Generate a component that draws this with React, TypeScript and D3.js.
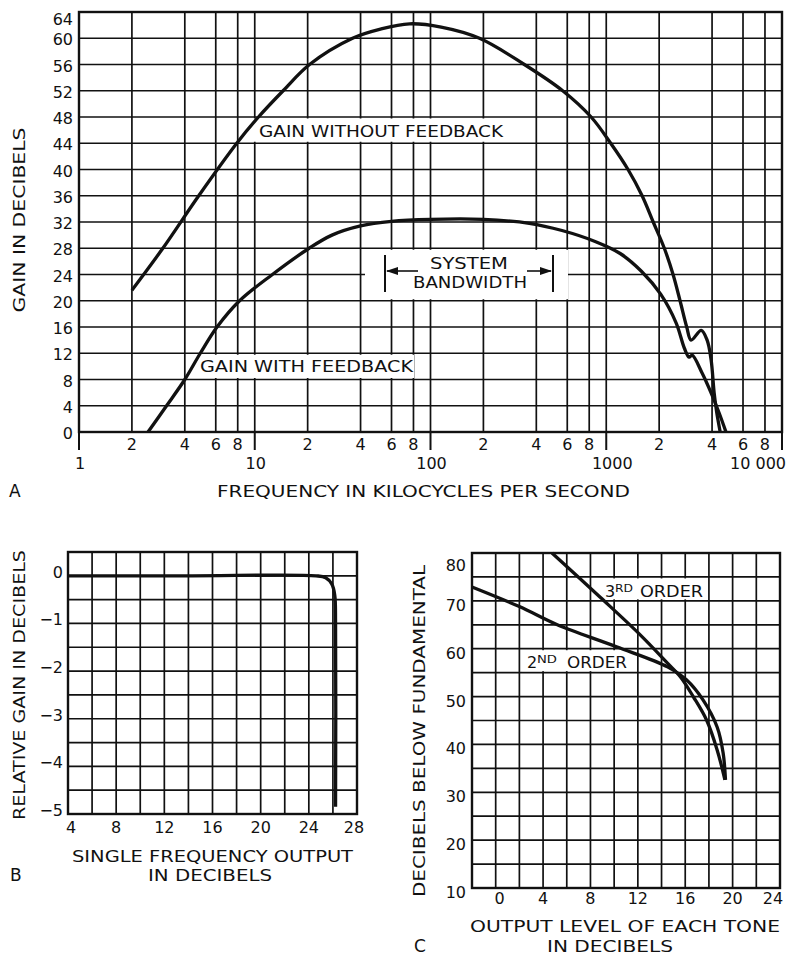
import React from "react";
import * as d3 from "d3";

// ---------- Panel A data ----------
const freqNoFb = [2, 3.0, 4.8, 7.9, 10.5, 14.5, 20.5, 36, 52, 76, 115, 190, 342, 565, 820, 1060, 1330, 1600, 1850, 2140, 2400, 2630, 2870, 3040, 3470, 3750, 3950, 4110, 4250, 4450];
const gainNoFb = [21.6, 28, 36, 44, 48, 52, 56, 60, 61.4, 62.2, 61.7, 60, 56, 52, 48, 44, 40, 36, 32, 28, 24, 20, 16, 14, 15.5, 14, 11, 6, 3, 0];
const freqFb = [2.47, 3.15, 4.0, 4.9, 6.1, 8.2, 12.6, 20.4, 27.5, 40, 60, 100, 200, 365, 560, 871, 1200, 1585, 2040, 2500, 2780, 2960, 3080, 3510, 3960, 4390, 4800];
const gainFb = [0, 4, 8, 12, 16, 20, 24, 28, 30, 31.4, 32.1, 32.4, 32.4, 31.8, 30.7, 29.0, 27.2, 24.5, 21.0, 16.6, 12.8, 11.4, 11.7, 9, 5.9, 2.9, 0];
const aGainTicks = [0, 4, 8, 12, 16, 20, 24, 28, 32, 36, 40, 44, 48, 52, 56, 60, 64];
const aMinorTicks = [2, 4, 6, 8, 20, 40, 60, 80, 200, 400, 600, 800, 2000, 4000, 6000, 8000];
const aMinorLabels = ["2", "4", "6", "8", "2", "4", "6", "8", "2", "4", "6", "8", "2", "4", "6", "8"];
const aDecades = [1, 10, 100, 1000, 10000];
const aDecadeLabels = ["1", "10", "100", "1000", "10 000"];

// ---------- Panel B data ----------
const outB = [4, 14, 24.6, 25.4, 25.9, 26.15, 26.22, 26.22];
const relGainB = [0, 0, 0, -0.04, -0.17, -0.4, -1.0, -4.85];
const bXTicks = [4, 8, 12, 16, 20, 24, 28];
const bYTicks = [0, -1, -2, -3, -4, -5];
const bXGrid = [6, 10, 14, 18, 22, 26];
const bYGrid = [0.5, -0.5, -1.5, -2.5, -3.5, -4.5];

// ---------- Panel C data ----------
const levelC2 = [-2, 2, 5.2, 10.2, 14.5, 16.1, 17.5, 18.7, 19.2, 19.4];
const dbC2 = [72.9, 68.8, 65, 60.4, 56.2, 53.5, 49.3, 43.6, 38.2, 32.6];
const levelC3 = [4.75, 8.8, 12.2, 14.5, 15.6, 16.7, 17.8, 18.7, 19.35];
const dbC3 = [80, 70.8, 62.9, 57, 54.1, 49.9, 45.1, 38.8, 32.6];
const cXTicks = [0, 4, 8, 12, 16, 20, 24];
const cXGrid = [-2, 2, 6, 10, 14, 18, 22];
const cYTicks = [10, 20, 30, 40, 50, 60, 70, 80];
const cYGrid = [15, 25, 35, 45, 55, 65, 75];

const FONT = "'DejaVu Sans', 'Liberation Sans', sans-serif";
const FS = 16;

export default function App() {
  const xA = d3.scaleLog().domain([1, 10000]).range([79, 782]);
  const yA = d3.scaleLinear().domain([0, 64]).range([432, 12]);
  const xB = d3.scaleLinear().domain([4, 28]).range([68, 357]);
  const yB = d3.scaleLinear().domain([-5, 0.5]).range([814, 552]);
  const xC = d3.scaleLinear().domain([-2, 24]).range([472, 780]);
  const yC = d3.scaleLinear().domain([10, 80]).range([888, 553]);

  const cr = d3.curveCatmullRom.alpha(0.5);
  const lineA = d3.line<[number, number]>().x((d) => xA(d[0])).y((d) => yA(d[1])).curve(cr);
  const lineB = d3.line<[number, number]>().x((d) => xB(d[0])).y((d) => yB(d[1])).curve(cr);
  const lineC = d3.line<[number, number]>().x((d) => xC(d[0])).y((d) => yC(d[1])).curve(cr);

  const zip = (a: number[], b: number[]) => a.map((v, i) => [v, b[i]] as [number, number]);

  const gridW = 1.7;
  const borderW = 2.4;
  const curveW = 3.3;
  const ink = "#111";

  const txt = (props: any, s: string) => (
    <text fontFamily={FONT} fontSize={FS} fill={ink} {...props}>
      {s}
    </text>
  );

  return (
    <svg width={789} height={956} style={{ position: "absolute", left: 0, top: 0, background: "#fff" }}>
      <rect x={0} y={0} width={789} height={956} fill="#fff" />

      {/* ================= PANEL A ================= */}
      <g>
        {aGainTicks.map((v) => (
          <line key={"ah" + v} x1={xA(1)} x2={xA(10000)} y1={yA(v)} y2={yA(v)} stroke={ink} strokeWidth={gridW} />
        ))}
        {aMinorTicks.concat([10, 100, 1000]).map((v) => (
          <line key={"av" + v} x1={xA(v)} x2={xA(v)} y1={yA(0)} y2={yA(64)} stroke={ink} strokeWidth={gridW} />
        ))}
        <rect x={xA(1)} y={yA(64)} width={xA(10000) - xA(1)} height={yA(0) - yA(64)} fill="none" stroke={ink} strokeWidth={borderW} />
        {aDecades.map((v) => (
          <line key={"adt" + v} x1={xA(v)} x2={xA(v)} y1={yA(0)} y2={yA(0) + 18} stroke={ink} strokeWidth={2} />
        ))}

        {/* label boxes */}
        <rect x={243} y={yA(48) + 1.5} width={263} height={yA(44) - yA(48) - 3} fill="#fff" />
        <rect x={190} y={yA(12) + 1.5} width={224} height={yA(8) - yA(12) - 3} fill="#fff" />
        <rect x={365} y={yA(28) + 1.5} width={203} height={yA(20) - yA(28) - 3} fill="#fff" />

        <path d={lineA(zip(freqNoFb, gainNoFb)) || ""} fill="none" stroke={ink} strokeWidth={curveW} strokeLinejoin="round" />
        <path d={lineA(zip(freqFb, gainFb)) || ""} fill="none" stroke={ink} strokeWidth={curveW} strokeLinejoin="round" />

        {aGainTicks.map((v) =>
          txt({ key: "ayl" + v, x: 73, y: v === 64 ? yA(v) + 13 : yA(v) + 7, textAnchor: "end" }, String(v))
        )}
        {aMinorTicks.map((v, i) => txt({ key: "axl" + v, x: xA(v), y: 450, textAnchor: "middle" }, aMinorLabels[i]))}
        {aDecades.map((v, i) =>
          txt(
            {
              key: "axd" + v,
              x: i === aDecades.length - 1 ? xA(v) + 4 : i === 3 ? xA(v) + 6 : xA(v) + 1,
              y: 469,
              textAnchor: i === aDecades.length - 1 ? "end" : "middle",
            },
            aDecadeLabels[i]
          )
        )}

        {txt({ x: 259, y: 137, textLength: 244, lengthAdjust: "spacingAndGlyphs" }, "GAIN WITHOUT FEEDBACK")}
        {txt({ x: 200, y: 372, textLength: 213, lengthAdjust: "spacingAndGlyphs" }, "GAIN WITH FEEDBACK")}
        {txt({ x: 430, y: 269, textLength: 78, lengthAdjust: "spacingAndGlyphs" }, "SYSTEM")}
        {txt({ x: 413, y: 288, textLength: 114, lengthAdjust: "spacingAndGlyphs" }, "BANDWIDTH")}
        <line x1={385} x2={385} y1={255} y2={292} stroke={ink} strokeWidth={2} />
        <line x1={553} x2={553} y1={255} y2={292} stroke={ink} strokeWidth={2} />
        <line x1={387} x2={418} y1={271} y2={271} stroke={ink} strokeWidth={1.6} />
        <line x1={527} x2={551} y1={271} y2={271} stroke={ink} strokeWidth={1.6} />
        <path d="M386,271 L398,267 L398,275 Z" fill={ink} />
        <path d="M552,271 L540,267 L540,275 Z" fill={ink} />

        {txt({ x: 217, y: 497, textLength: 413, lengthAdjust: "spacingAndGlyphs" }, "FREQUENCY IN KILOCYCLES PER SECOND")}
        {txt({ x: 9, y: 497, fontSize: 17 }, "A")}
        {txt(
          { x: 0, y: 0, textAnchor: "middle", transform: "translate(25,220) rotate(-90)", textLength: 185, lengthAdjust: "spacingAndGlyphs" },
          "GAIN IN DECIBELS"
        )}
      </g>

      {/* ================= PANEL B ================= */}
      <g>
        {bYTicks.concat(bYGrid).map((v) => (
          <line key={"bh" + v} x1={xB(4)} x2={xB(28)} y1={yB(v)} y2={yB(v)} stroke={ink} strokeWidth={gridW} />
        ))}
        {bXTicks.concat(bXGrid).map((v) => (
          <line key={"bv" + v} x1={xB(v)} x2={xB(v)} y1={yB(-5)} y2={yB(0.5)} stroke={ink} strokeWidth={gridW} />
        ))}
        <rect x={xB(4)} y={yB(0.5)} width={xB(28) - xB(4)} height={yB(-5) - yB(0.5)} fill="none" stroke={ink} strokeWidth={borderW} />
        <path d={lineB(zip(outB, relGainB)) || ""} fill="none" stroke={ink} strokeWidth={curveW} strokeLinejoin="round" />
        {bYTicks.map((v) =>
          txt({ key: "byl" + v, x: 63, y: yB(v) + 2, textAnchor: "end" }, v === 0 ? "0" : "\u2212" + Math.abs(v))
        )}
        {bXTicks.map((v, i) =>
          txt({ key: "bxl" + v, x: xB(v) + (i === 0 ? 3 : i === bXTicks.length - 1 ? -3 : 0), y: 833, textAnchor: "middle" }, String(v))
        )}
        {txt({ x: 72, y: 862, textLength: 281, lengthAdjust: "spacingAndGlyphs" }, "SINGLE FREQUENCY OUTPUT")}
        {txt({ x: 148, y: 881, textLength: 124, lengthAdjust: "spacingAndGlyphs" }, "IN DECIBELS")}
        {txt({ x: 10, y: 881, fontSize: 17 }, "B")}
        {txt(
          { x: 0, y: 0, textAnchor: "middle", transform: "translate(25,685) rotate(-90)", textLength: 270, lengthAdjust: "spacingAndGlyphs" },
          "RELATIVE GAIN IN DECIBELS"
        )}
      </g>

      {/* ================= PANEL C ================= */}
      <g>
        {cYTicks.concat(cYGrid).map((v) => (
          <line key={"ch" + v} x1={xC(-2)} x2={xC(24)} y1={yC(v)} y2={yC(v)} stroke={ink} strokeWidth={gridW} />
        ))}
        {cXTicks.concat(cXGrid).map((v) => (
          <line key={"cv" + v} x1={xC(v)} x2={xC(v)} y1={yC(10)} y2={yC(80)} stroke={ink} strokeWidth={gridW} />
        ))}
        <rect x={xC(-2)} y={yC(80)} width={xC(24) - xC(-2)} height={yC(10) - yC(80)} fill="none" stroke={ink} strokeWidth={borderW} />
        <rect x={600} y={yC(75) + 1.5} width={106} height={yC(70) - yC(75) - 3} fill="#fff" />
        <rect x={522} y={yC(60) + 1.5} width={108} height={yC(55) - yC(60) - 3} fill="#fff" />

        <path d={lineC(zip(levelC2, dbC2)) || ""} fill="none" stroke={ink} strokeWidth={curveW} strokeLinejoin="round" />
        <path d={lineC(zip(levelC3, dbC3)) || ""} fill="none" stroke={ink} strokeWidth={curveW} strokeLinejoin="round" />

        {txt({ x: 605, y: 597 }, "3")}
        {txt({ x: 615, y: 592, fontSize: 10, textLength: 18, lengthAdjust: "spacingAndGlyphs" }, "RD")}
        {txt({ x: 640, y: 597, textLength: 63, lengthAdjust: "spacingAndGlyphs" }, "ORDER")}
        {txt({ x: 527, y: 668 }, "2")}
        {txt({ x: 537, y: 663, fontSize: 10, textLength: 20, lengthAdjust: "spacingAndGlyphs" }, "ND")}
        {txt({ x: 567, y: 668, textLength: 60, lengthAdjust: "spacingAndGlyphs" }, "ORDER")}

        {cYTicks.map((v) => txt({ key: "cyl" + v, x: 466, y: v === 80 ? yC(v) + 18 : yC(v) + 10, textAnchor: "end" }, String(v)))}
        {cXTicks.map((v, i) =>
          txt({ key: "cxl" + v, x: xC(v) + (i === 0 ? 4 : i === cXTicks.length - 1 ? -7 : 0), y: 904, textAnchor: "middle" }, String(v))
        )}
        {txt({ x: 470, y: 932, textLength: 310, lengthAdjust: "spacingAndGlyphs" }, "OUTPUT LEVEL OF EACH TONE")}
        {txt({ x: 547, y: 952, textLength: 126, lengthAdjust: "spacingAndGlyphs" }, "IN DECIBELS")}
        {txt({ x: 414, y: 952, fontSize: 17 }, "C")}
        {txt(
          { x: 0, y: 0, textAnchor: "middle", transform: "translate(425,731) rotate(-90)", textLength: 332, lengthAdjust: "spacingAndGlyphs" },
          "DECIBELS BELOW FUNDAMENTAL"
        )}
      </g>
    </svg>
  );
}
